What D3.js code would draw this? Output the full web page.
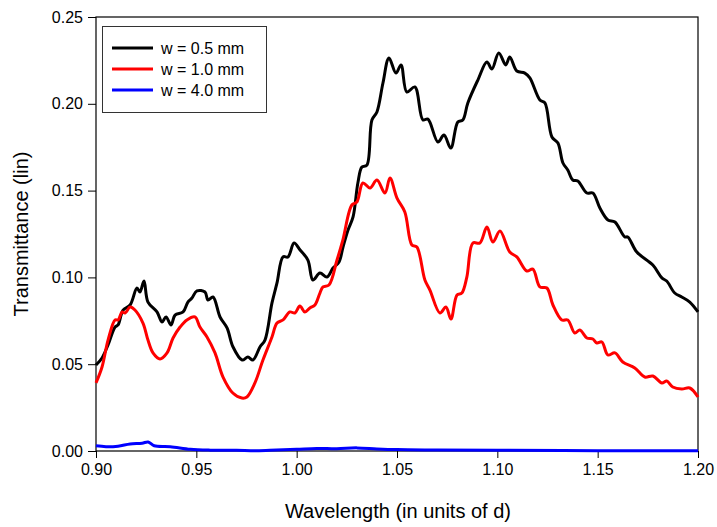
<!DOCTYPE html>
<html>
<head>
<meta charset="utf-8">
<script src="https://cdn.jsdelivr.net/npm/d3@7"></script>
<style>
    html, body { margin: 0; padding: 0; background: #fff; }
    svg text { font-family: Arial, "Liberation Sans", sans-serif; fill: #000; }
</style>
</head>
<body>
<svg id="chart"></svg>
<script>
// wavelength (units of d) / transmittance pairs
var seriesNames = ['w = 0.5 mm', 'w = 1.0 mm', 'w = 4.0 mm'];
var seriesColors = ['#000000', '#ff0000', '#0000ff'];

var blackX = [0.900, 0.903, 0.906, 0.9095, 0.911, 0.9135, 0.917, 0.9204, 0.9219, 0.9239, 0.9259, 0.9304, 0.9329, 0.9349, 0.9374, 0.9394, 0.9434, 0.9458, 0.9478, 0.9503, 0.9543, 0.9558, 0.9583, 0.9618, 0.9653, 0.9683, 0.9728, 0.9757, 0.9782, 0.9817, 0.9842, 0.9877, 0.9902, 0.9932, 0.9957, 0.9987, 1.0017, 1.0056, 1.0081, 1.0116, 1.0151, 1.0181, 1.0211, 1.0231, 1.0256, 1.0281, 1.0305, 1.0325, 1.0350, 1.0375, 1.0400, 1.0430, 1.0460, 1.0495, 1.0520, 1.0549, 1.0589, 1.0629, 1.0654, 1.0704, 1.0734, 1.0768, 1.0803, 1.0828, 1.0853, 1.0903, 1.0948, 1.0973, 1.1007, 1.1042, 1.1062, 1.1097, 1.1137, 1.1162, 1.1212, 1.1237, 1.1272, 1.1302, 1.1327, 1.1351, 1.1376, 1.1401, 1.1446, 1.1476, 1.1511, 1.1551, 1.1586, 1.1635, 1.1650, 1.1695, 1.1775, 1.1820, 1.1844, 1.1884, 1.1919, 1.1959, 1.2000];
var blackY = [0.0495, 0.0536, 0.0611, 0.0714, 0.0726, 0.0812, 0.0841, 0.0939, 0.0916, 0.0979, 0.0858, 0.0801, 0.0743, 0.0772, 0.0726, 0.0783, 0.0801, 0.0858, 0.0881, 0.0922, 0.0916, 0.0870, 0.0887, 0.0772, 0.0709, 0.0599, 0.0524, 0.0541, 0.0524, 0.0599, 0.0639, 0.0853, 0.0968, 0.1118, 0.1118, 0.1198, 0.1158, 0.1100, 0.0985, 0.1025, 0.1002, 0.1054, 0.1089, 0.1175, 0.1273, 0.1348, 0.1544, 0.1636, 0.1647, 0.1907, 0.1953, 0.2120, 0.2264, 0.2177, 0.2224, 0.2068, 0.2097, 0.1907, 0.1912, 0.1780, 0.1820, 0.1745, 0.1895, 0.1907, 0.2005, 0.2137, 0.2241, 0.2200, 0.2293, 0.2224, 0.2270, 0.2189, 0.2177, 0.2149, 0.2022, 0.2005, 0.1809, 0.1774, 0.1659, 0.1619, 0.1561, 0.1555, 0.1486, 0.1486, 0.1400, 0.1331, 0.1319, 0.1233, 0.1233, 0.1146, 0.1071, 0.0997, 0.0979, 0.0910, 0.0887, 0.0858, 0.0801];

var redX = [0.900, 0.903, 0.906, 0.9095, 0.911, 0.913, 0.9145, 0.917, 0.9194, 0.9234, 0.9259, 0.9284, 0.9319, 0.9354, 0.9384, 0.9419, 0.9453, 0.9493, 0.9518, 0.9553, 0.9593, 0.9633, 0.9682, 0.9727, 0.9752, 0.9792, 0.9832, 0.9877, 0.9902, 0.9932, 0.9966, 0.9991, 1.0016, 1.0041, 1.0066, 1.0091, 1.0116, 1.0131, 1.0161, 1.0201, 1.0230, 1.0275, 1.0300, 1.0330, 1.0365, 1.0400, 1.0440, 1.0465, 1.0500, 1.0539, 1.0574, 1.0599, 1.0639, 1.0664, 1.0714, 1.0744, 1.0769, 1.0799, 1.0823, 1.0848, 1.0878, 1.0913, 1.0948, 1.0978, 1.1013, 1.1062, 1.1097, 1.1147, 1.1177, 1.1212, 1.1247, 1.1277, 1.1321, 1.1351, 1.1386, 1.1411, 1.1446, 1.1476, 1.1496, 1.1521, 1.1551, 1.1586, 1.1625, 1.1685, 1.1735, 1.1775, 1.1820, 1.1844, 1.1874, 1.1919, 1.1959, 1.2000];
var redY = [0.0392, 0.0484, 0.0639, 0.0755, 0.0755, 0.0801, 0.0795, 0.0829, 0.0812, 0.0737, 0.0639, 0.0565, 0.0530, 0.0565, 0.0651, 0.0714, 0.0755, 0.0772, 0.0714, 0.0657, 0.0565, 0.0426, 0.0334, 0.0305, 0.0311, 0.0392, 0.0524, 0.0657, 0.0737, 0.0755, 0.0801, 0.0795, 0.0835, 0.0801, 0.0824, 0.0841, 0.0910, 0.0945, 0.0956, 0.1100, 0.1215, 0.1417, 0.1434, 0.1544, 0.1515, 0.1561, 0.1486, 0.1573, 0.1457, 0.1377, 0.1187, 0.1175, 0.0985, 0.0927, 0.0795, 0.0829, 0.0760, 0.0899, 0.0910, 0.1002, 0.1198, 0.1198, 0.1290, 0.1204, 0.1267, 0.1146, 0.1118, 0.1037, 0.1048, 0.0945, 0.0939, 0.0841, 0.0755, 0.0755, 0.0680, 0.0697, 0.0651, 0.0645, 0.0622, 0.0628, 0.0553, 0.0565, 0.0513, 0.0478, 0.0426, 0.0432, 0.0392, 0.0403, 0.0369, 0.0357, 0.0363, 0.0311];

var blueX = [0.900, 0.905, 0.911, 0.917, 0.923, 0.926, 0.929, 0.937, 0.947, 0.957, 0.970, 0.980, 0.990, 1.000, 1.010, 1.020, 1.030, 1.040, 1.050, 1.070, 1.100, 1.150, 1.200];
var blueY = [0.0030, 0.0025, 0.0028, 0.0040, 0.0045, 0.0052, 0.0030, 0.0025, 0.0010, 0.0005, 0.0004, 0.0002, 0.0006, 0.0010, 0.0015, 0.0013, 0.0018, 0.0012, 0.0008, 0.0006, 0.0004, 0.0002, 0.0001];

var xTicks = [0.90, 0.95, 1.00, 1.05, 1.10, 1.15, 1.20];
var yTicks = [0.00, 0.05, 0.10, 0.15, 0.20, 0.25];

window.Spectra = window.Spectra || {};

Spectra.setup = {
    initConst: function() {
        Spectra.width = 717;
        Spectra.height = 527;
        Spectra.left = 96;
        Spectra.right = 698;
        Spectra.top = 17;
        Spectra.bottom = 451;
    },

    initObjects: function() {
        Spectra.svg = d3.select('#chart')
                        .attr('width', Spectra.width)
                        .attr('height', Spectra.height);

        Spectra.x = d3.scaleLinear().domain([0.90, 1.20]).range([Spectra.left, Spectra.right]);
        Spectra.y = d3.scaleLinear().domain([0, 0.25]).range([Spectra.bottom, Spectra.top]);

        Spectra.series = [
            Spectra.helpers.zip(blackX, blackY),
            Spectra.helpers.zip(redX, redY),
            Spectra.helpers.zip(blueX, blueY)
        ];
    }
};

Spectra.helpers = {
    zip: function(xs, ys) {
        return xs.map(function(x, i) { return [x, ys[i]]; });
    }
};

Spectra.core = {
    draw: function() {
        Spectra.core.drawAxes();
        Spectra.core.drawLines();
        Spectra.core.drawLegend();
    },

    drawAxes: function() {
        let svg = Spectra.svg;

        let xAxis = svg.append('g')
                       .attr('transform', 'translate(0,' + Spectra.bottom + ')')
                       .call(d3.axisBottom(Spectra.x).tickValues(xTicks)
                               .tickFormat(d3.format('.2f')).tickSizeOuter(0).tickSize(7).tickPadding(6));
        let yAxis = svg.append('g')
                       .attr('transform', 'translate(' + Spectra.left + ',0)')
                       .call(d3.axisLeft(Spectra.y).tickValues(yTicks)
                               .tickFormat(d3.format('.2f')).tickSizeOuter(0).tickSize(8).tickPadding(5));

        [xAxis, yAxis].forEach(function(a) {
            a.select('.domain').remove();
            a.selectAll('line').attr('stroke', '#000').attr('stroke-width', 1);
            a.selectAll('text').style('font-size', '16px')
             .style('font-family', 'Arial, "Liberation Sans", sans-serif');
        });

        // frame round the plot
        svg.append('rect')
           .attr('x', Spectra.left).attr('y', Spectra.top)
           .attr('width', Spectra.right - Spectra.left)
           .attr('height', Spectra.bottom - Spectra.top)
           .attr('fill', 'none').attr('stroke', '#000').attr('stroke-width', 1.2);

        svg.append('text')
           .attr('x', 398).attr('y', 518)
           .attr('text-anchor', 'middle').style('font-size', '20px')
           .text('Wavelength (in units of d)');

        svg.append('text')
           .attr('transform', 'translate(28,234) rotate(-90)')
           .attr('text-anchor', 'middle').style('font-size', '20px')
           .text('Transmittance (lin)');
    },

    drawLines: function() {
        let line = d3.line()
                     .x(function(d) { return Spectra.x(d[0]); })
                     .y(function(d) { return Spectra.y(d[1]); })
                     .curve(d3.curveCatmullRom.alpha(0.5));

        Spectra.svg.append('g').selectAll('path')
           .data(Spectra.series)
           .enter().append('path')
           .attr('d', line)
           .attr('fill', 'none')
           .attr('stroke', function(d, i) { return seriesColors[i]; })
           .attr('stroke-width', 3)
           .attr('stroke-linejoin', 'round');
    },

    drawLegend: function() {
        let legend = Spectra.svg.append('g');

        legend.append('rect')
              .attr('x', 102.5).attr('y', 26.5).attr('width', 164).attr('height', 86)
              .attr('fill', '#fff').attr('stroke', '#333').attr('stroke-width', 1);

        let rows = legend.selectAll('g.row')
                         .data(seriesNames)
                         .enter().append('g')
                         .attr('class', 'row')
                         .attr('transform', function(d, i) { return 'translate(0,' + (48 + i * 21) + ')'; });

        rows.append('line')
            .attr('x1', 112).attr('x2', 153)
            .attr('stroke', function(d, i) { return seriesColors[i]; })
            .attr('stroke-width', 3);

        rows.append('text')
            .attr('x', 161).attr('dy', '0.36em')
            .style('font-size', '16px')
            .text(function(d) { return d; });
    }
};

Spectra.init = function() {
    Spectra.setup.initConst();
    Spectra.setup.initObjects();
};

Spectra.init();
Spectra.core.draw();
</script>
</body>
</html>
